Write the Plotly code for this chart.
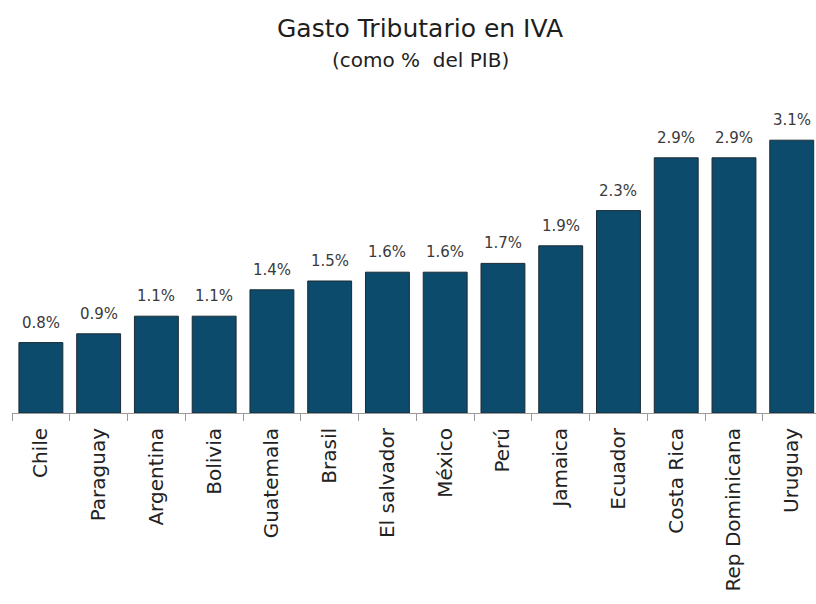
import plotly.graph_objects as go

countries = ["Chile", "Paraguay", "Argentina", "Bolivia", "Guatemala", "Brasil",
             "El salvador", "México", "Perú", "Jamaica", "Ecuador", "Costa Rica",
             "Rep Dominicana", "Uruguay"]
values = [0.8, 0.9, 1.1, 1.1, 1.4, 1.5, 1.6, 1.6, 1.7, 1.9, 2.3, 2.9, 2.9, 3.1]
labels = ["0.8%", "0.9%", "1.1%", "1.1%", "1.4%", "1.5%", "1.6%", "1.6%", "1.7%",
          "1.9%", "2.3%", "2.9%", "2.9%", "3.1%"]

FONT = "DejaVu Sans"

fig = go.Figure()
fig.add_trace(go.Bar(
    x=countries, y=values,
    marker=dict(color="#0d4b6c", line=dict(color="#1b2a33", width=1)),
    width=0.76,
    hoverinfo="skip",
))

for c, v, t in zip(countries, values, labels):
    fig.add_annotation(x=c, y=v, text=t, showarrow=False, yanchor="bottom",
                       yshift=9, font=dict(family=FONT, size=15, color="#3a3a3a"))

fig.add_annotation(xref="paper", yref="paper", x=0.508, y=1.25, text="Gasto Tributario en IVA",
                   showarrow=False, yanchor="middle",
                   font=dict(family=FONT, size=25, color="#1e1e1e"))
fig.add_annotation(xref="paper", yref="paper", x=0.508, y=1.146, text="(como %&nbsp; del PIB)",
                   showarrow=False, yanchor="middle",
                   font=dict(family=FONT, size=20, color="#1e1e1e"))

fig.update_layout(
    width=816, height=604,
    margin=dict(l=12, r=0, t=105, b=191),
    paper_bgcolor="white", plot_bgcolor="white",
    showlegend=False,
    bargap=0.24,
    xaxis=dict(
        type="category", range=[-0.5, 13.42],
        tickson="boundaries", ticks="outside", ticklen=7, tickcolor="#9a9a9a",
        showline=True, linecolor="#9a9a9a", linewidth=1,
        tickangle=-90, tickfont=dict(family=FONT, size=20, color="#222222"),
        ticklabelstandoff=6,
        showgrid=False, automargin=False,
    ),
    yaxis=dict(range=[0, 3.5], visible=False, showgrid=False, zeroline=False),
)

fig.write_html("out.html", config={"displayModeBar": False},
               post_script="document.body.style.margin='0';document.body.style.overflow='hidden';")
